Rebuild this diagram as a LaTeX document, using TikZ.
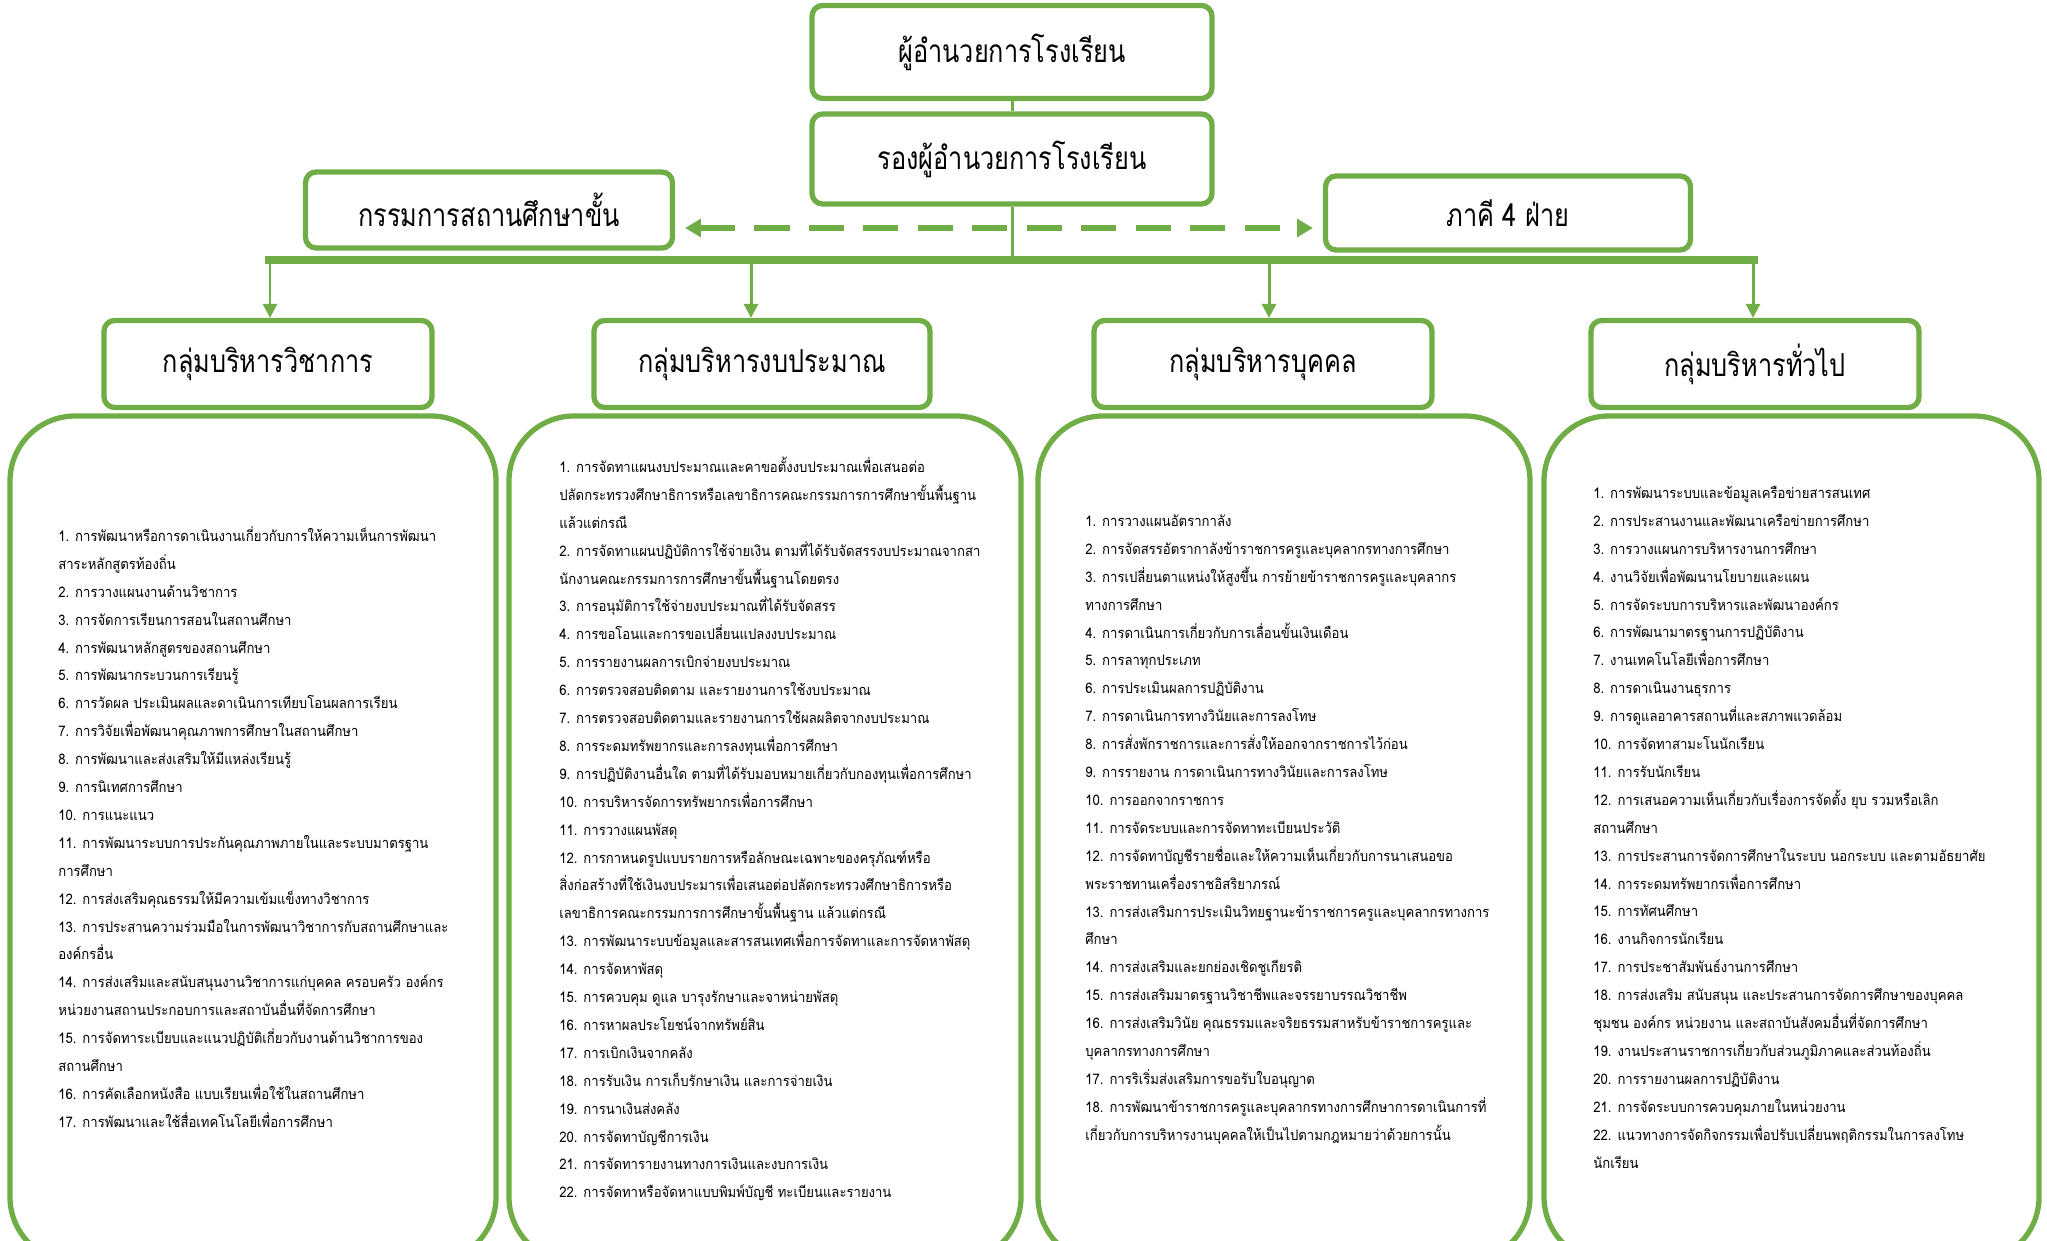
\documentclass[tikz,border=0pt]{standalone}
\usepackage{fontspec}
\newfontfamily\thaifont[Script=Thai, FakeStretch=0.8]{Loma}
\newfontfamily\thaitext[Script=Thai, FakeStretch=0.9]{Loma}
\usetikzlibrary{arrows.meta}
\definecolor{kgreen}{HTML}{70AD47}
\tikzset{
  hbox/.style={draw=kgreen, line width=3pt, fill=white, rounded corners=6pt, inner sep=0pt, font=\thaifont\fontsize{18}{21}\selectfont},
  listbox/.style={draw=kgreen, line width=3pt, rounded corners=1.3cm},
  items/.style={anchor=north west, inner sep=0pt, align=left, font=\thaitext\fontsize{8.3}{15.88}\selectfont},
  link/.style={draw=kgreen, line width=1.7pt},
  tip/.style={-{Triangle[length=8pt, width=8pt]}}
}

\begin{document}
\begin{tikzpicture}[x=0.02cm, y=-0.02cm]
\useasboundingbox (0,0) rectangle (2047,1240);
\clip (0,0) rectangle (2047,1240);

\node[hbox, minimum width=8cm, minimum height=1.86cm] (dir) at (1012,52) {ผู้อำนวยการโรงเรียน};
\node[hbox, minimum width=8cm, minimum height=1.8cm] (dep) at (1012,159) {รองผู้อำนวยการโรงเรียน};
\node[hbox, minimum width=7.34cm, minimum height=1.52cm] (board) at (489,210) {กรรมการสถานศึกษาขั้น};
\node[hbox, minimum width=7.3cm, minimum height=1.48cm] (party) at (1508,213) {ภาคี 4 ฝ่าย};

\node[hbox, minimum width=6.56cm, minimum height=1.74cm] (grpA) at (268,364) {กลุ่มบริหารวิชาการ};
\node[hbox, minimum width=6.72cm, minimum height=1.74cm] (grpB) at (762,364) {กลุ่มบริหารงบประมาณ};
\node[hbox, minimum width=6.76cm, minimum height=1.74cm] (grpC) at (1263,364) {กลุ่มบริหารบุคคล};
\node[hbox, minimum width=6.56cm, minimum height=1.74cm] (grpD) at (1755,364) {กลุ่มบริหารทั่วไป};

% connectors
\coordinate (barY) at (0,260);
\draw[link] (dir) -- (dep);
\draw[link] (dep.south) -- (dep.south |- barY);
\draw[kgreen, line width=4pt] ([xshift=-1.5pt]grpA.north |- barY) -- ([xshift=1.5pt]grpD.north |- barY);
\foreach \g/\dx in {grpA/0.04,grpB/-0.22,grpC/0.12,grpD/-0.04}
  \draw[link, tip] ([xshift=\dx cm]\g.north |- barY) -- ([xshift=\dx cm]\g.north);
\draw[kgreen, line width=3.4pt, dash pattern=on 20pt off 11pt, shorten <=0.2cm, shorten >=0.2cm,
  {Triangle[length=9pt, width=10pt]}-{Triangle[length=9pt, width=10pt]}]
  (board.east |- 0,228) -- (party.west |- 0,228);

% task lists
\draw[listbox] (10,416) rectangle (496,1262);
\draw[listbox] (509,416) rectangle (1021,1262);
\draw[listbox] (1038,416) rectangle (1530,1262);
\draw[listbox] (1544,416) rectangle (2039,1262);

\node[items] (listA) at (58,520) {\rule{0pt}{12pt}1. การพัฒนาหรือการดาเนินงานเกี่ยวกับการให้ความเห็นการพัฒนา\\
สาระหลักสูตรท้องถิ่น\\
2. การวางแผนงานด้านวิชาการ\\
3. การจัดการเรียนการสอนในสถานศึกษา\\
4. การพัฒนาหลักสูตรของสถานศึกษา\\
5. การพัฒนากระบวนการเรียนรู้\\
6. การวัดผล ประเมินผลและดาเนินการเทียบโอนผลการเรียน\\
7. การวิจัยเพื่อพัฒนาคุณภาพการศึกษาในสถานศึกษา\\
8. การพัฒนาและส่งเสริมให้มีแหล่งเรียนรู้\\
9. การนิเทศการศึกษา\\
10. การแนะแนว\\
11. การพัฒนาระบบการประกันคุณภาพภายในและระบบมาตรฐาน\\
การศึกษา\\
12. การส่งเสริมคุณธรรมให้มีความเข้มแข็งทางวิชาการ\\
13. การประสานความร่วมมือในการพัฒนาวิชาการกับสถานศึกษาและ\\
องค์กรอื่น\\
14. การส่งเสริมและสนับสนุนงานวิชาการแก่บุคคล ครอบครัว องค์กร\\
หน่วยงานสถานประกอบการและสถาบันอื่นที่จัดการศึกษา\\
15. การจัดทาระเบียบและแนวปฏิบัติเกี่ยวกับงานด้านวิชาการของ\\
สถานศึกษา\\
16. การคัดเลือกหนังสือ แบบเรียนเพื่อใช้ในสถานศึกษา\\
17. การพัฒนาและใช้สื่อเทคโนโลยีเพื่อการศึกษา};

\node[items] (listB) at (559,451) {\rule{0pt}{12pt}1. การจัดทาแผนงบประมาณและคาขอตั้งงบประมาณเพื่อเสนอต่อ\\
ปลัดกระทรวงศึกษาธิการหรือเลขาธิการคณะกรรมการการศึกษาขั้นพื้นฐาน\\
แล้วแต่กรณี\\
2. การจัดทาแผนปฏิบัติการใช้จ่ายเงิน ตามที่ได้รับจัดสรรงบประมาณจากสา\\
นักงานคณะกรรมการการศึกษาขั้นพื้นฐานโดยตรง\\
3. การอนุมัติการใช้จ่ายงบประมาณที่ได้รับจัดสรร\\
4. การขอโอนและการขอเปลี่ยนแปลงงบประมาณ\\
5. การรายงานผลการเบิกจ่ายงบประมาณ\\
6. การตรวจสอบติดตาม และรายงานการใช้งบประมาณ\\
7. การตรวจสอบติดตามและรายงานการใช้ผลผลิตจากงบประมาณ\\
8. การระดมทรัพยากรและการลงทุนเพื่อการศึกษา\\
9. การปฏิบัติงานอื่นใด ตามที่ได้รับมอบหมายเกี่ยวกับกองทุนเพื่อการศึกษา\\
10. การบริหารจัดการทรัพยากรเพื่อการศึกษา\\
11. การวางแผนพัสดุ\\
12. การกาหนดรูปแบบรายการหรือลักษณะเฉพาะของครุภัณฑ์หรือ\\
สิ่งก่อสร้างที่ใช้เงินงบประมารเพื่อเสนอต่อปลัดกระทรวงศึกษาธิการหรือ\\
เลขาธิการคณะกรรมการการศึกษาขั้นพื้นฐาน แล้วแต่กรณี\\
13. การพัฒนาระบบข้อมูลและสารสนเทศเพื่อการจัดทาและการจัดหาพัสดุ\\
14. การจัดหาพัสดุ\\
15. การควบคุม ดูแล บารุงรักษาและจาหน่ายพัสดุ\\
16. การหาผลประโยชน์จากทรัพย์สิน\\
17. การเบิกเงินจากคลัง\\
18. การรับเงิน การเก็บรักษาเงิน และการจ่ายเงิน\\
19. การนาเงินส่งคลัง\\
20. การจัดทาบัญชีการเงิน\\
21. การจัดทารายงานทางการเงินและงบการเงิน\\
22. การจัดทาหรือจัดหาแบบพิมพ์บัญชี ทะเบียนและรายงาน};

\node[items] (listC) at (1085,505) {\rule{0pt}{12pt}1. การวางแผนอัตรากาลัง\\
2. การจัดสรรอัตรากาลังข้าราชการครูและบุคลากรทางการศึกษา\\
3. การเปลี่ยนตาแหน่งให้สูงขึ้น การย้ายข้าราชการครูและบุคลากร\\
ทางการศึกษา\\
4. การดาเนินการเกี่ยวกับการเลื่อนขั้นเงินเดือน\\
5. การลาทุกประเภท\\
6. การประเมินผลการปฏิบัติงาน\\
7. การดาเนินการทางวินัยและการลงโทษ\\
8. การสั่งพักราชการและการสั่งให้ออกจากราชการไว้ก่อน\\
9. การรายงาน การดาเนินการทางวินัยและการลงโทษ\\
10. การออกจากราชการ\\
11. การจัดระบบและการจัดทาทะเบียนประวัติ\\
12. การจัดทาบัญชีรายชื่อและให้ความเห็นเกี่ยวกับการนาเสนอขอ\\
พระราชทานเครื่องราชอิสริยาภรณ์\\
13. การส่งเสริมการประเมินวิทยฐานะข้าราชการครูและบุคลากรทางการ\\
ศึกษา\\
14. การส่งเสริมและยกย่องเชิดชูเกียรติ\\
15. การส่งเสริมมาตรฐานวิชาชีพและจรรยาบรรณวิชาชีพ\\
16. การส่งเสริมวินัย คุณธรรมและจริยธรรมสาหรับข้าราชการครูและ\\
บุคลากรทางการศึกษา\\
17. การริเริ่มส่งเสริมการขอรับใบอนุญาต\\
18. การพัฒนาข้าราชการครูและบุคลากรทางการศึกษาการดาเนินการที่\\
เกี่ยวกับการบริหารงานบุคคลให้เป็นไปตามกฎหมายว่าด้วยการนั้น};

\node[items] (listD) at (1593,477) {\rule{0pt}{12pt}1. การพัฒนาระบบและข้อมูลเครือข่ายสารสนเทศ\\
2. การประสานงานและพัฒนาเครือข่ายการศึกษา\\
3. การวางแผนการบริหารงานการศึกษา\\
4. งานวิจัยเพื่อพัฒนานโยบายและแผน\\
5. การจัดระบบการบริหารและพัฒนาองค์กร\\
6. การพัฒนามาตรฐานการปฏิบัติงาน\\
7. งานเทคโนโลยีเพื่อการศึกษา\\
8. การดาเนินงานธุรการ\\
9. การดูแลอาคารสถานที่และสภาพแวดล้อม\\
10. การจัดทาสามะโนนักเรียน\\
11. การรับนักเรียน\\
12. การเสนอความเห็นเกี่ยวกับเรื่องการจัดตั้ง ยุบ รวมหรือเลิก\\
สถานศึกษา\\
13. การประสานการจัดการศึกษาในระบบ นอกระบบ และตามอัธยาศัย\\
14. การระดมทรัพยากรเพื่อการศึกษา\\
15. การทัศนศึกษา\\
16. งานกิจการนักเรียน\\
17. การประชาสัมพันธ์งานการศึกษา\\
18. การส่งเสริม สนับสนุน และประสานการจัดการศึกษาของบุคคล\\
ชุมชน องค์กร หน่วยงาน และสถาบันสังคมอื่นที่จัดการศึกษา\\
19. งานประสานราชการเกี่ยวกับส่วนภูมิภาคและส่วนท้องถิ่น\\
20. การรายงานผลการปฏิบัติงาน\\
21. การจัดระบบการควบคุมภายในหน่วยงาน\\
22. แนวทางการจัดกิจกรรมเพื่อปรับเปลี่ยนพฤติกรรมในการลงโทษ\\
นักเรียน};
\end{tikzpicture}
\end{document}
